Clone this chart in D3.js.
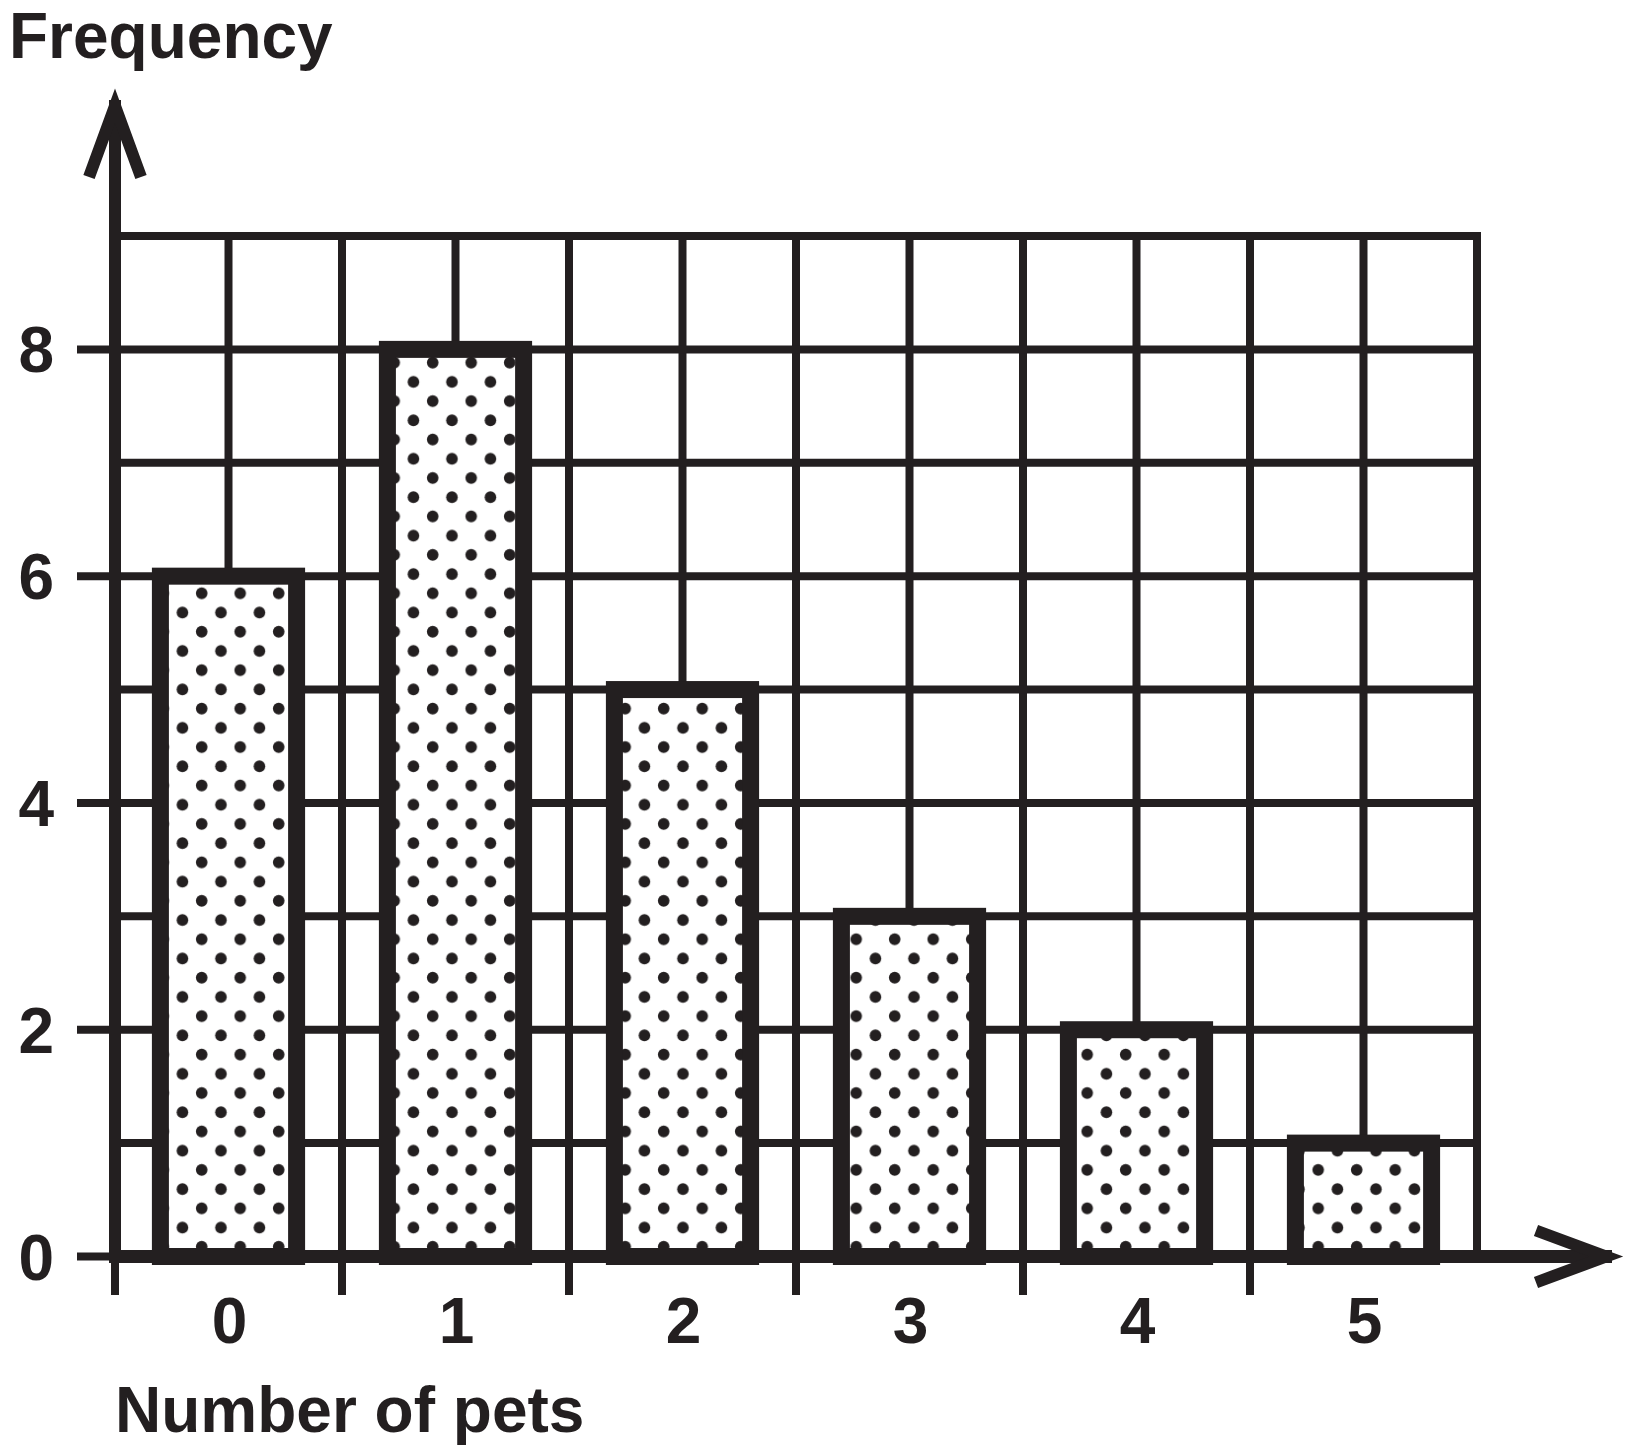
<!DOCTYPE html>
<html>
<head>
<meta charset="utf-8">
<script src="https://cdn.jsdelivr.net/npm/d3@7"></script>
<style>
  html, body { margin: 0; padding: 0; background: #fff; }
  svg { display: block; }
</style>
</head>
<body>
<script>
// ---- data ----
const categories = ["0", "1", "2", "3", "4", "5"];
const frequencies = [6, 8, 5, 3, 2, 1];
const yTickValues = [0, 2, 4, 6, 8];
const yTickLabels = ["0", "2", "4", "6", "8"];
const xAxisTitle = "Number of pets";
const yAxisTitle = "Frequency";

// ---- setup ----
const W = 1625, H = 1449;
const ink = "#231f20";
const font = "'Liberation Sans', Arial, Helvetica, sans-serif";

const svg = d3.select("body").append("svg").attr("width", W).attr("height", H);

const x = d3.scaleLinear().domain([0, categories.length]).range([115, 1477]);
const y = d3.scaleLinear().domain([0, 9]).range([1256.5, 236]);

// dotted pattern
const defs = svg.append("defs");
const pw = 38.5, ph = 38.44;
const pat = defs.append("pattern")
  .attr("id", "dots")
  .attr("patternUnits", "userSpaceOnUse")
  .attr("x", 201.7 - pw / 4).attr("y", 593.3 - ph / 4)
  .attr("width", pw).attr("height", ph);
pat.append("rect").attr("width", pw).attr("height", ph).attr("fill", "#fff");
pat.append("circle").attr("cx", pw / 4).attr("cy", ph / 4).attr("r", 5.8).attr("fill", ink);
pat.append("circle").attr("cx", 3 * pw / 4).attr("cy", 3 * ph / 4).attr("r", 5.8).attr("fill", ink);

// ---- grid ----
const grid = svg.append("g").attr("stroke", ink).attr("stroke-width", 8);
const vGrid = d3.range(1, categories.length * 2 + 1).map(i => i / 2);
grid.selectAll("line.v").data(vGrid).join("line").attr("class", "v")
  .attr("x1", d => x(d)).attr("x2", d => x(d))
  .attr("y1", y(0)).attr("y2", y(9) - 4);
const hGrid = d3.range(1, 10);
grid.selectAll("line.h").data(hGrid).join("line").attr("class", "h")
  .attr("x1", x(0)).attr("x2", x(categories.length) + 4)
  .attr("y1", d => y(d)).attr("y2", d => y(d));

// y ticks extending left
grid.selectAll("line.yt").data(yTickValues).join("line").attr("class", "yt")
  .attr("x1", 77).attr("x2", x(0))
  .attr("y1", d => y(d)).attr("y2", d => y(d));
// x ticks extending down
grid.selectAll("line.xt").data(d3.range(0, categories.length)).join("line").attr("class", "xt")
  .attr("x1", d => x(d)).attr("x2", d => x(d))
  .attr("y1", y(0)).attr("y2", 1295);

// ---- bars ----
const bw = x(0.6) - x(0);
svg.append("g").selectAll("rect").data(frequencies).join("rect")
  .attr("x", (d, i) => x(i + 0.5) - bw / 2)
  .attr("width", bw)
  .attr("y", d => y(d))
  .attr("height", d => y(0) - y(d))
  .attr("fill", "url(#dots)")
  .attr("stroke", ink)
  .attr("stroke-width", 17)
  .attr("stroke-linejoin", "miter");

// ---- axes ----
const axes = svg.append("g").attr("stroke", ink).attr("fill", "none")
  .attr("stroke-width", 12).attr("stroke-linejoin", "miter").attr("stroke-miterlimit", 10);
// y axis
axes.append("line").attr("x1", x(0)).attr("x2", x(0)).attr("y1", y(0) + 6).attr("y2", 100);
axes.append("path").attr("d", d3.line()([[x(0) - 26, 177], [x(0), 106], [x(0) + 26, 177]]));
// x axis
axes.append("line").attr("x1", x(0) - 6).attr("x2", 1612).attr("y1", y(0)).attr("y2", y(0)).attr("stroke-width", 13);
axes.append("path").attr("d", d3.line()([[1536, y(0) - 26], [1606, y(0)], [1536, y(0) + 26]]));

// ---- labels ----
const txt = svg.append("g").attr("fill", ink).attr("font-family", font).attr("font-weight", "bold");
txt.selectAll("text.yl").data(yTickValues).join("text").attr("class", "yl")
  .attr("x", 54).attr("y", d => y(d) + 23)
  .attr("text-anchor", "end").attr("font-size", 64)
  .text((d, i) => yTickLabels[i]);
txt.selectAll("text.xl").data(categories).join("text").attr("class", "xl")
  .attr("x", (d, i) => x(i + 0.5) + 1).attr("y", 1343)
  .attr("text-anchor", "middle").attr("font-size", 64)
  .text(d => d);
txt.append("text").attr("x", 9).attr("y", 58).attr("font-size", 64).text(yAxisTitle);
txt.append("text").attr("x", 115).attr("y", 1432).attr("font-size", 64).text(xAxisTitle);
</script>
</body>
</html>
